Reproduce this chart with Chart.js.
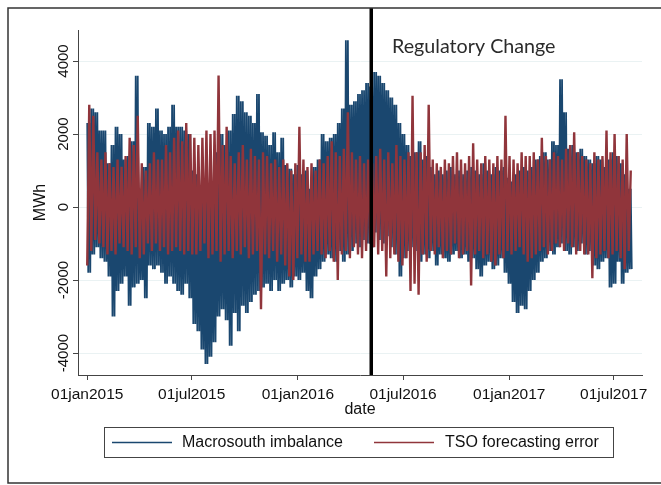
<!DOCTYPE html>
<html>
<head>
<meta charset="utf-8">
<title>Macrosouth imbalance and TSO forecasting error</title>
<script src="https://cdn.jsdelivr.net/npm/chart.js@4.4.1/dist/chart.umd.min.js"></script>
<style>
  html, body { margin: 0; padding: 0; background: #fff; }
  canvas { display: block; }
</style>
</head>
<body>
<canvas id="myChart" width="661" height="485"></canvas>
<script>
// weekly highs and lows (MWh), first week starts 01jan2015
const blueHigh = [
  2300, 2700, 2600, 2100, 2100, 1200, 1700, 2200, 2000, 1300,
  1400, 1800, 3600, 500, 1100, 2300, 2200, 2700, 2100, 2000,
  2200, 2800, 2200, 2200, 2100, 2000, 1000, 900, 500, 300,
  400, 700, 1500, 2000, 1700, 2100, 2550, 3050, 2900, 2600,
  2500, 2300, 3100, 2050, 1950, 1700, 2050, 1500, 1900, 1150,
  1050, 900, 1150, 900, 1000, 500, 1100, 1300, 2000, 1800,
  1900, 2000, 2300, 2700, 4570, 2800, 2900, 3100, 3200, 3400,
  3300, 3700, 3600, 3400, 3200, 3000, 2800, 2300, 2000, 1700,
  1400, 1500, 1800, 1300, 1400, 1100, 900, 1000, 900, 1000,
  1100, 900, 1000, 900, 1000, 1100, 1000, 900, 1200, 1000,
  900, 1100, 1000, 1100, 800, 700, 900, 1000, 1100, 1000,
  1100, 1300, 1400, 1500, 1300, 1800, 1700, 3500, 2600, 1600,
  1700, 1500, 1600, 1400, 1300, 1200, 1400, 1300, 1100, 1300,
  1500, 1400, 1200, 900, 500
];
const blueLow = [
  -1800, -1300, -1100, -1400, -1500, -1900, -3000, -2300, -2100, -1900,
  -2700, -2200, -2100, -2000, -2500, -1600, -1700, -1600, -1800, -2100,
  -1900, -2100, -2300, -2400, -2100, -2500, -3200, -3400, -3900, -4300,
  -4100, -3700, -3000, -2800, -3100, -3800, -2900, -3400, -2700, -2900,
  -2600, -2400, -2300, -2200, -2100, -2300, -2000, -2300, -2100, -2000,
  -2200, -1900, -2000, -1800, -2300, -2500, -1900, -1700, -1500, -1300,
  -1400, -1500, -1200, -1500, -1300, -1200, -1000, -1100, -900, -1000,
  -1100, -700, -900, -1000, -800, -1100, -1300, -1900, -1400, -1200,
  -1100, -1200, -1500, -1300, -1400, -1200, -1600, -1300, -1400, -1500,
  -1300, -1200, -1400, -1300, -1500, -1400, -1700, -1900, -1600, -1500,
  -1700, -1600, -1400, -1800, -2100, -2600, -2900, -2700, -2800, -2300,
  -2000, -1800, -1500, -1400, -1200, -1300, -1100, -1000, -1200, -1300,
  -1100, -1200, -1000, -1300, -1200, -1600, -1700, -1500, -1400, -2200,
  -2100, -1500, -2100, -1800, -1700
];
const redHigh = [
  2800, 2500, 1500, 1300, 1500, 1200, 1100, 1300, 1100, 1400,
  1900, 1700, 2500, 1200, 1000, 1200, 1500, 1300, 1300, 1700,
  1500, 1900, 2100, 1800, 2300, 2000, 1900, 1700, 1900, 2100,
  2000, 2100, 3600, 1700, 2200, 1400, 1200, 1500, 1700, 1300,
  1600, 1400, 1300, 1500, 1400, 1200, 1300, 1100, 1300, 1200,
  1000, 1200, 2200, 1300, 1100, 1200, 1000, 1300, 1200, 1400,
  1800, 1500, 1400, 1600, 2600, 1500, 1300, 1400, 1200, 1300,
  1200, 1400, 1600, 1300, 1500, 1200, 1700, 1400, 1300, 1500,
  3050, 1500, 1500, 1700, 2800, 1300, 1200, 1100, 1300, 1200,
  1400, 1500, 1300, 1200, 1400, 1750, 1300, 1200, 1400, 1300,
  1200, 1400, 1300, 2500, 1400, 1300, 1200, 1500, 1400, 1400,
  1500, 1300, 1900, 1400, 1300, 1500, 1400, 1300, 1600, 1700,
  2050, 1500, 1400, 1300, 1200, 1500, 1300, 1400, 2100, 1500,
  2000, 1400, 1300, 2000, 1000
];
const redLow = [
  -1600, -1200, -900, -1000, -1100, -1300, -1200, -1300, -1000, -1100,
  -1200, -1300, -1100, -1400, -1300, -1000, -1200, -1000, -1200, -1100,
  -1300, -1200, -1100, -1200, -1300, -1200, -1300, -1300, -1200, -1000,
  -1400, -1300, -1200, -1500, -1300, -1200, -1400, -1200, -1300, -1100,
  -1400, -1300, -1200, -2800, -1300, -1400, -1200, -1500, -1300, -1600,
  -1900, -2000, -1400, -1300, -1500, -1500, -1300, -1200, -1300, -1400,
  -1200, -1500, -2000, -1300, -1200, -1400, -1100, -1300, -1400, -1200,
  -1000, -1100, -1300, -1200, -1900, -1400, -1300, -1500, -1600, -1400,
  -2300, -2100, -2400, -1300, -1500, -1200, -1300, -1100, -1400, -1200,
  -1300, -1000, -1400, -1300, -1200, -2150, -1300, -1200, -1400, -1300,
  -1500, -1600, -1300, -1400, -1200, -1300, -1200, -1100, -1300, -1500,
  -1400, -1300, -1200, -1100, -1300, -1200, -1000, -1100, -1200, -1000,
  -1100, -1300, -1200, -1300, -1300, -1950, -1400, -1300, -1200, -1400,
  -1300, -1200, -1400, -1700, -1200
];

// x axis is days since 01jan2015
const tickDays = [0, 181, 365, 547, 731, 912];
const tickLabels = ["01jan2015", "01jul2015", "01jan2016", "01jul2016", "01jan2017", "01jul2017"];
const yTicks = [-4000, -2000, 0, 2000, 4000];
const regulatoryChangeDay = 492;

const navy = "#1a476f";
const maroon = "#90353b";

// each week swings between its high and low (teeth times) so the line fills the band
// like the dense hourly trace does
function zigzag(first, second, teeth) {
  const points = [];
  const step = 7 / (2 * teeth);
  for (let i = 0; i < first.length; i++) {
    for (let t = 0; t < teeth; t++) {
      points.push({ x: i * 7 + 2 * t * step, y: first[i] });
      points.push({ x: i * 7 + (2 * t + 1) * step, y: second[i] });
    }
  }
  return points;
}

// frame, regulatory change line, rotated y labels and the boxed legend
const stataBits = {
  id: "stataBits",
  afterDatasetsDraw(chart) {
    const { ctx, chartArea, scales } = chart;
    const x = scales.x.getPixelForValue(regulatoryChangeDay);
    ctx.save();
    ctx.strokeStyle = "#000";
    ctx.lineWidth = 3.5;
    ctx.beginPath();
    ctx.moveTo(x, 8);
    ctx.lineTo(x, chartArea.bottom);
    ctx.stroke();
    ctx.restore();
  },
  afterDraw(chart) {
    const { ctx, scales } = chart;
    ctx.save();

    // outer frame
    ctx.strokeStyle = "#333";
    ctx.lineWidth = 1.5;
    ctx.strokeRect(8, 8, 700, 475);

    // y tick labels, reading bottom to top
    ctx.fillStyle = "#111";
    ctx.font = "15px 'Liberation Sans', Arial, sans-serif";
    ctx.textAlign = "center";
    ctx.textBaseline = "alphabetic";
    yTicks.forEach((v) => {
      const y = scales.y.getPixelForValue(v);
      ctx.save();
      ctx.translate(67.5, y);
      ctx.rotate(-Math.PI / 2);
      ctx.fillText(String(v), 0, 0);
      ctx.restore();
    });

    // annotation
    const text = "Regulatory Change";
    ctx.font = "19px Lato, sans-serif";
    const size = 19 * 164 / ctx.measureText(text).width;
    ctx.font = size.toFixed(1) + "px Lato, sans-serif";
    ctx.fillStyle = "#2b2b2b";
    ctx.textAlign = "left";
    ctx.fillText(text, 392, 53);

    // legend
    ctx.strokeStyle = "#444";
    ctx.lineWidth = 1;
    ctx.strokeRect(104.5, 427.5, 509, 30);
    const items = [
      { label: "Macrosouth imbalance", color: navy, x0: 112, x1: 172, tx: 182 },
      { label: "TSO forecasting error", color: maroon, x0: 374, x1: 434, tx: 445 },
    ];
    ctx.font = "16px 'Liberation Sans', Arial, sans-serif";
    ctx.textBaseline = "middle";
    items.forEach((it) => {
      ctx.strokeStyle = it.color;
      ctx.lineWidth = 1.5;
      ctx.beginPath();
      ctx.moveTo(it.x0, 442.5);
      ctx.lineTo(it.x1, 442.5);
      ctx.stroke();
      ctx.fillStyle = "#111";
      ctx.fillText(it.label, it.tx, 443);
    });

    ctx.restore();
  },
};

const ctx = document.getElementById("myChart").getContext("2d");
/* eslint-disable no-unused-vars */
const myChart = new Chart(ctx, {
  type: "line",
  data: {
    datasets: [
      {
        label: "Macrosouth imbalance",
        data: zigzag(blueHigh, blueLow, 2),
        borderColor: navy,
        borderWidth: 1.8,
        borderJoinStyle: "bevel",
        pointRadius: 0,
        order: 1,
      },
      {
        label: "TSO forecasting error",
        data: zigzag(redLow, redHigh, 1),
        borderColor: maroon,
        borderWidth: 2.4,
        borderJoinStyle: "bevel",
        pointRadius: 0,
        order: 0,
      },
    ],
  },
  options: {
    responsive: false,
    animation: false,
    parsing: false,
    layout: { padding: { top: 30, right: 19, bottom: 66, left: 0 } },
    plugins: { legend: { display: false }, tooltip: { enabled: false } },
    scales: {
      x: {
        type: "linear",
        min: -16,
        max: 961,
        afterBuildTicks: (axis) => { axis.ticks = tickDays.map((v) => ({ value: v })); },
        afterFit: (axis) => { axis.height = 44; },
        ticks: {
          autoSkip: false,
          maxRotation: 0,
          padding: 5,
          color: "#111",
          font: { family: "'Liberation Sans', Arial, sans-serif", size: 15.5 },
          callback: (value) => tickLabels[tickDays.indexOf(value)],
        },
        grid: { color: "rgba(0,0,0,0)", tickColor: "#444", tickLength: 5 },
        border: { color: "#444" },
        title: {
          display: true,
          text: "date",
          color: "#111",
          padding: { top: 0, bottom: 0 },
          font: { family: "'Liberation Sans', Arial, sans-serif", size: 16 },
        },
      },
      y: {
        min: -4600,
        max: 4850,
        afterBuildTicks: (axis) => { axis.ticks = yTicks.map((v) => ({ value: v })); },
        afterFit: (axis) => { axis.width = 78; },
        ticks: { display: false },
        grid: { color: "#eaf2f3", tickColor: "#444", tickLength: 5 },
        border: { color: "#444" },
        title: {
          display: true,
          text: "MWh",
          color: "#111",
          padding: { top: 31, bottom: 0 },
          font: { family: "'Liberation Sans', Arial, sans-serif", size: 16 },
        },
      },
    },
  },
  plugins: [stataBits],
});
</script>
</body>
</html>
